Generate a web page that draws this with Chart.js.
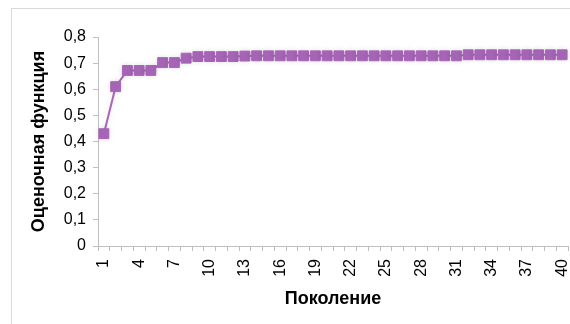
<!DOCTYPE html>
<html>
<head>
<meta charset="utf-8">
<script src="https://cdn.jsdelivr.net/npm/chart.js@4/dist/chart.umd.min.js"></script>
<style>
  html, body { margin: 0; padding: 0; background: #fff; }
  body { width: 570px; height: 324px; position: relative; overflow: hidden; }
  #frame { position: absolute; left: 11px; top: 8px; width: 600px; height: 400px;
           border-left: 1px solid #d9d9d9; border-top: 1px solid #d9d9d9; }
  #wrap { position: absolute; left: 0; top: 0; width: 570px; height: 324px; }
</style>
</head>
<body>
<div id="frame"></div>
<div id="wrap"><canvas id="c" width="570" height="324"></canvas></div>
<script>
// Generations 1..40
const generations = [];
for (let g = 1; g <= 40; g++) generations.push(String(g));

// Best evaluation-function value per generation
const fitness = [
  0.430, 0.610, 0.672, 0.672, 0.672, 0.702, 0.702, 0.719, 0.725, 0.725,
  0.725, 0.725, 0.727, 0.728, 0.728, 0.728, 0.728, 0.728, 0.728, 0.728,
  0.728, 0.728, 0.728, 0.728, 0.728, 0.728, 0.728, 0.728, 0.728, 0.728,
  0.728, 0.732, 0.732, 0.732, 0.732, 0.732, 0.732, 0.732, 0.732, 0.732
];

const yTicks = [0, 0.1, 0.2, 0.3, 0.4, 0.5, 0.6, 0.7, 0.8];

const purple = '#a866b8';
const axisGray = '#bfbfbf';
const family = '"Liberation Sans", Arial, sans-serif';
const tickFont = { family: family, size: 16 };
const titleFont = { family: family, size: 18, weight: 'bold' };

// soft halo under the series, like the office-chart marker shadow
const markerShadow = {
  id: 'markerShadow',
  beforeDatasetsDraw(chart) {
    const ctx = chart.ctx;
    ctx.save();
    ctx.shadowColor = 'rgba(0,0,0,0.12)';
    ctx.shadowBlur = 6;
  },
  afterDatasetsDraw(chart) {
    chart.ctx.restore();
  }
};

new Chart(document.getElementById('c'), {
  type: 'line',
  data: {
    labels: generations,
    datasets: [{
      data: fitness,
      borderColor: purple,
      backgroundColor: purple,
      borderWidth: 2,
      pointStyle: 'rect',
      pointRadius: 7,
      pointBorderWidth: 1,
      pointBorderColor: purple,
      pointBackgroundColor: purple,
      tension: 0,
      clip: false
    }]
  },
  plugins: [markerShadow],
  options: {
    responsive: false,
    animation: false,
    devicePixelRatio: 1,
    layout: { autoPadding: false, padding: { left: 24, top: 37, right: 2, bottom: 10 } },
    plugins: { legend: { display: false }, tooltip: { enabled: false } },
    scales: {
      x: {
        type: 'category',
        offset: true,
        grid: {
          offset: true,
          drawOnChartArea: false,
          drawTicks: true,
          tickLength: 5,
          color: axisGray
        },
        border: { display: true, color: axisGray, width: 1 },
        ticks: {
          autoSkip: false,
          minRotation: 90,
          maxRotation: 90,
          padding: 8,
          color: '#000',
          font: tickFont,
          callback: function (value, index) {
            return index % 3 === 0 ? this.getLabelForValue(value) : '';
          }
        },
        title: {
          display: true,
          text: 'Поколение',
          color: '#000',
          font: titleFont,
          padding: { top: 4, bottom: 4 }
        },
        afterFit: (scale) => {
          scale.height = 68;
          scale.paddingLeft = 0;
          scale.paddingRight = 0;
        }
      },
      y: {
        min: 0,
        max: 0.8,
        afterBuildTicks: (scale) => { scale.ticks = yTicks.map(v => ({ value: v })); },
        grid: {
          drawOnChartArea: false,
          drawTicks: true,
          tickLength: 5,
          color: axisGray
        },
        border: { display: true, color: axisGray, width: 1 },
        ticks: {
          padding: 7,
          color: '#000',
          font: tickFont,
          callback: (v) => (v === 0 ? '0' : v.toFixed(1).replace('.', ','))
        },
        title: {
          display: true,
          text: 'Оценочная функция',
          color: '#000',
          font: titleFont,
          padding: { top: 4, bottom: 4 }
        },
        afterFit: (scale) => { scale.width = 74; }
      }
    }
  }
});
</script>
</body>
</html>
